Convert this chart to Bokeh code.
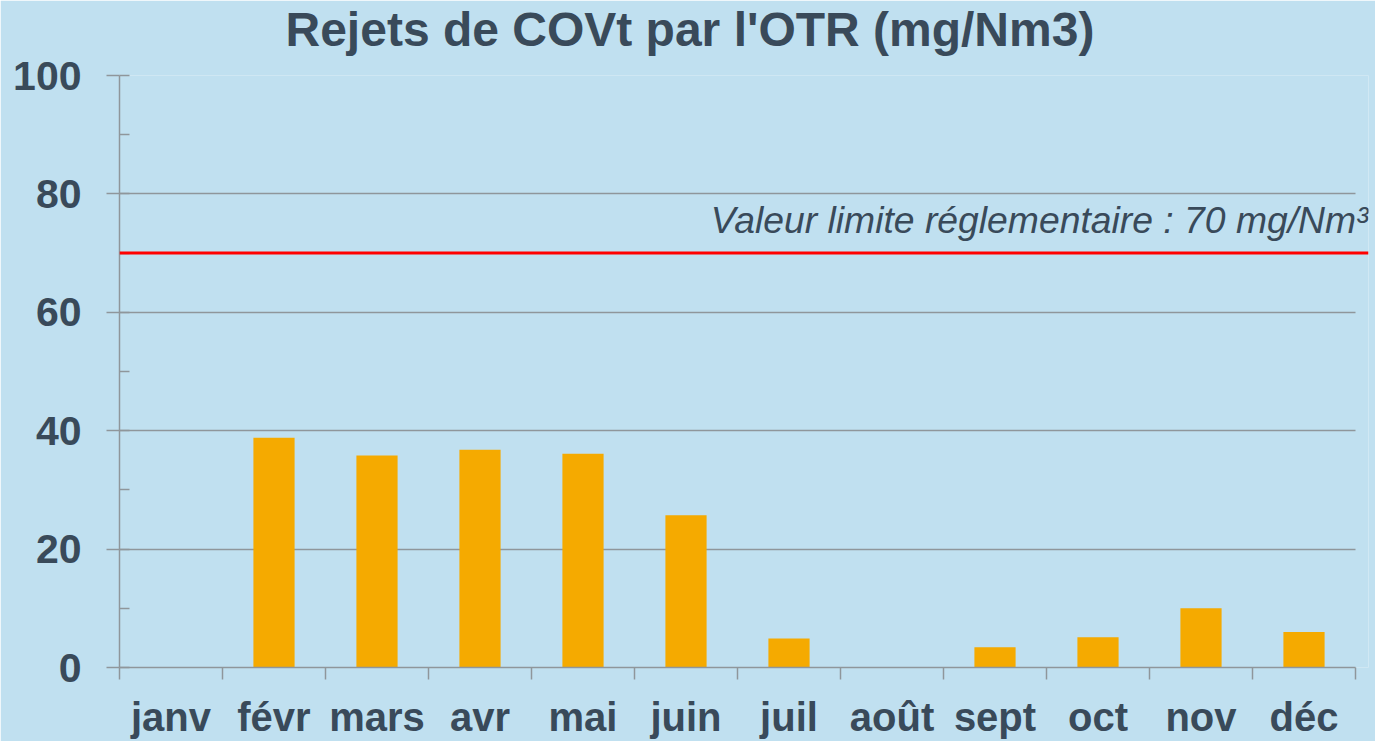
import numpy as np
from bokeh.plotting import figure
from bokeh.models import (Range1d, FixedTicker, SingleIntervalTicker, Span, Label, ColumnDataSource, Title)
from bokeh.embed import file_html
from bokeh.resources import INLINE

# ---- data ----
months = ["janv", "févr", "mars", "avr", "mai", "juin", "juil", "août", "sept", "oct", "nov", "déc"]
covt = [np.nan, 38.8, 35.8, 36.8, 36.1, 25.7, 4.9, np.nan, 3.4, 5.1, 10.0, 6.0]
limit_value = 70
y_max = 100
y_step = 20
title_text = "Rejets de COVt par l'OTR (mg/Nm3)"
limit_text = "Valeur limite réglementaire : 70 mg/Nm³"

# ---- styles ----
BG = "#C0E0F0"
TXT = "#394A5A"
GRID = "#8F969B"
BAR = "#F5AA00"
FONT = "Liberation Sans"

n = len(months)
x_pos = np.arange(n) + 0.5
src = ColumnDataSource(dict(x=x_pos, top=covt))

# frame: 119..1368 px wide, categories occupy 119..1355
x_end = n * (1368 - 119) / (1355 - 119)

p = figure(width=1375, height=741, x_range=Range1d(0, x_end), y_range=Range1d(0, y_max),
           output_backend="svg", toolbar_location=None,
           min_border_left=119, min_border_right=7, min_border_top=75, min_border_bottom=73)
p.background_fill_color = BG
p.border_fill_color = BG
p.outline_line_color = None

# spacer between frame and title (keeps the title high without pushing the frame down)
spacer = Title(text=" ", standoff=7, text_font=FONT, text_font_size="10px", text_color=BG)
p.add_layout(spacer, "above")
t = Title(text=title_text, align="left", offset=166, standoff=0,
          text_font=FONT, text_font_size="48px", text_font_style="bold", text_color=TXT)
p.add_layout(t, "above")

# y axis
yt = SingleIntervalTicker(interval=y_step, num_minor_ticks=2)
p.yaxis.ticker = yt
p.yaxis.axis_line_color = GRID
p.yaxis.axis_line_width = 1.5
p.yaxis.major_tick_line_color = GRID
p.yaxis.major_tick_line_width = 1.5
p.yaxis.major_tick_out = 13
p.yaxis.major_tick_in = 0
p.yaxis.minor_tick_line_color = GRID
p.yaxis.minor_tick_line_width = 1.5
p.yaxis.minor_tick_in = 10
p.yaxis.minor_tick_out = 0
p.yaxis.major_label_text_font = FONT
p.yaxis.major_label_text_font_size = "41px"
p.yaxis.major_label_text_font_style = "bold"
p.yaxis.major_label_text_color = TXT
p.yaxis.major_label_standoff = 25

# x axis: labels at category centres, tick marks at category boundaries
p.xaxis.ticker = FixedTicker(ticks=list(x_pos), minor_ticks=list(range(n + 1)))
p.xaxis.major_label_overrides = {float(x): m for x, m in zip(x_pos, months)}
p.xaxis.bounds = (0, n)
p.xaxis.axis_line_color = GRID
p.xaxis.axis_line_width = 1.5
p.xaxis.minor_tick_line_color = GRID
p.xaxis.minor_tick_line_width = 1.5
p.xaxis.minor_tick_out = 12
p.xaxis.minor_tick_in = 0
p.xaxis.major_tick_out = 0
p.xaxis.major_tick_in = 0
p.xaxis.major_tick_line_color = None
p.xaxis.major_label_standoff = 15
p.xaxis.major_label_text_font = FONT
p.xaxis.major_label_text_font_size = "40px"
p.xaxis.major_label_text_font_style = "bold"
p.xaxis.major_label_text_color = TXT

p.xgrid.visible = False
p.ygrid.ticker = yt
p.ygrid.grid_line_color = GRID
p.ygrid.grid_line_width = 1.5
g = p.ygrid[0]
if "cross_bounds" in g.properties():
    g.cross_bounds = (0, n)

p.vbar(x="x", top="top", width=0.4, source=src, fill_color=BAR, line_color=None)

p.add_layout(Span(location=limit_value, dimension="width", line_color="#FF0000", line_width=3))
p.add_layout(Label(x=x_end, y=limit_value, text=limit_text, text_align="right",
                   text_baseline="alphabetic", x_offset=0, y_offset=33,
                   text_font=FONT, text_font_size="37.3px", text_font_style="italic",
                   text_color=TXT))

open("out.html", "w").write(file_html(p, INLINE))
